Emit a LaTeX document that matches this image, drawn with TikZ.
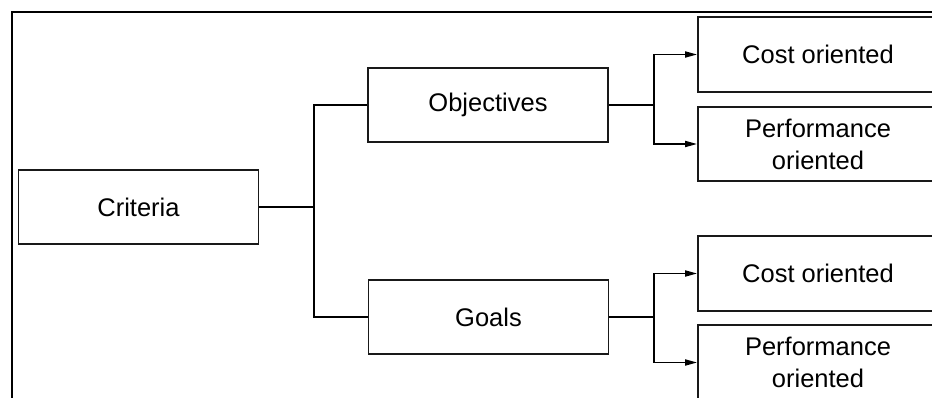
\documentclass[tikz,border=0pt]{standalone}
\usepackage{fontspec}
\setmainfont{Liberation Sans}
\usetikzlibrary{arrows.meta}
\begin{document}
\begin{tikzpicture}[x=1pt,y=-1pt,
  box/.style={draw=black!90, line width=1.8pt, minimum width=240pt, minimum height=74pt,
    inner sep=0pt, align=center, font=\fontsize{25.5pt}{32pt}\selectfont},
  link/.style={line width=1.8pt, black},
  arrowlink/.style={link, -{Triangle[length=12pt,width=6pt]}},
  frameline/.style={line width=2.4pt, black}]
\useasboundingbox (0,0) rectangle (932,398);
\clip (0,0) rectangle (932,398);
% outer frame (runs off the right and bottom edges)
\draw[frameline] (12,440) -- (12,12) -- (980,12);
% boxes
\node[box] (crit) at (138.5,207) {Criteria};
\node[box] (obj) at (488,105) {Objectives};
\node[box] (goals) at (488.5,317) {Goals};
\node[box, minimum height=75pt] (c1) at (818,54.5) {Cost oriented};
\node[box] (p1) at (818,144) {Performance\\oriented};
\node[box, minimum height=75pt] (c2) at (818,273.5) {Cost oriented};
\node[box, minimum height=75pt] (p2) at (818,362.5) {Performance\\oriented};
% junction points
\coordinate (j1) at (314,207);
\coordinate (j2) at (654,105);
\coordinate (j3) at (654,317);
% connectors
\draw[link] (crit.east) -- (j1);
\draw[link] (obj.west) -| (j1) |- (goals.west);
\draw[link] (obj.east) -- (j2);
\draw[arrowlink] (j2) |- (c1.west);
\draw[arrowlink] (j2) |- (p1.west);
\draw[link] (goals.east) -- (j3);
\draw[arrowlink] (j3) |- (c2.west);
\draw[arrowlink] (j3) |- (p2.west);
\end{tikzpicture}
\end{document}
